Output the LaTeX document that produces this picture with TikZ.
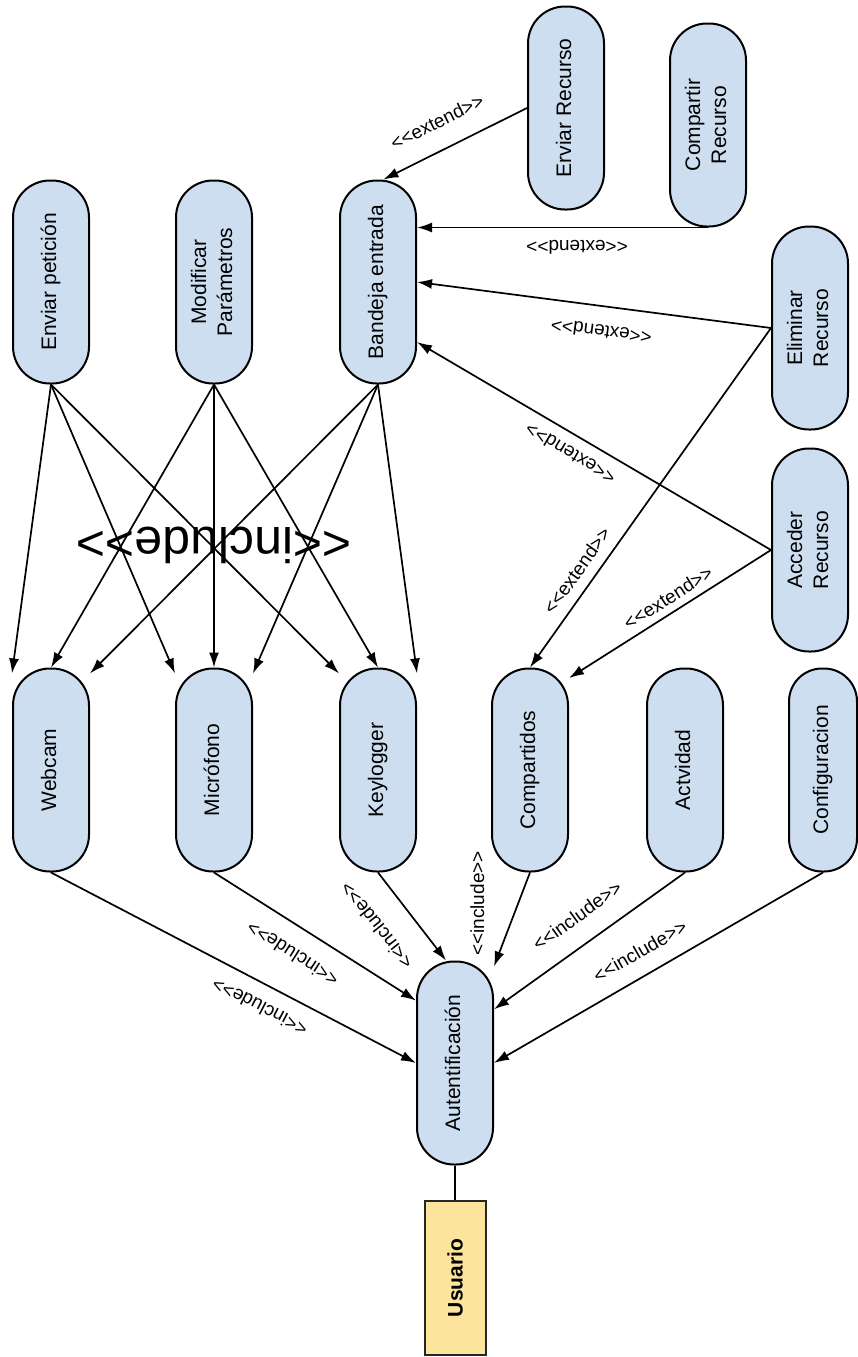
\documentclass[tikz,border=0pt]{standalone}
\usepackage{fontspec}
\setmainfont{Liberation Sans}[Ligatures=TeXOff]
\usepackage{tikz}
\usetikzlibrary{arrows.meta}

\definecolor{ucfill}{RGB}{205,222,241}
\definecolor{usrfill}{RGB}{253,228,156}
\newcommand{\vtext}[1]{\rotatebox{90}{\begin{tabular}{@{}c@{}}#1\end{tabular}}}

\begin{document}
\begin{tikzpicture}[x=1pt,y=-1pt,line width=1.7pt,>/.tip={Latex[length=15pt,width=10pt]},
	ucase/.style={draw, fill=ucfill, line width=2pt, rounded corners=37pt, minimum width=76pt, minimum height=203pt, inner sep=0pt, font=\fontsize{21}{26}\selectfont},
	actor/.style={draw=black!85, fill=usrfill, line width=2pt, minimum width=61pt, minimum height=154pt, inner sep=0pt, font=\fontsize{21}{26}\selectfont\bfseries},
	lbl/.style={font=\fontsize{19}{19}\selectfont, inner sep=1pt}]
\useasboundingbox (0,0) rectangle (858,1357);
\draw (51,282) node[ucase] (envpet) {\vtext{Enviar petición}};
\draw (214,282) node[ucase] (modpar) {\vtext{Modificar\\Parámetros}};
\draw (378,282) node[ucase] (bandeja) {\vtext{Bandeja entrada}};
\draw (566,108) node[ucase] (envrec) {\vtext{Erviar Recurso}};
\draw (708,125) node[ucase] (comprec) {\vtext{Compartir\\Recurso}};
\draw (810,328) node[ucase] (elimrec) {\vtext{Eliminar\\Recurso}};
\draw (810,550) node[ucase] (accrec) {\vtext{Acceder\\Recurso}};
\draw (51,770) node[ucase] (webcam) {\vtext{Webcam}};
\draw (214,770) node[ucase] (micro) {\vtext{Micrófono}};
\draw (378,770) node[ucase] (keylog) {\vtext{Keylogger}};
\draw (530,770) node[ucase] (compart) {\vtext{Compartidos}};
\draw (685,770) node[ucase] (activ) {\vtext{Actvidad}};
\draw (823,770) node[ucase, minimum width=68pt, rounded corners=33pt] (config) {\vtext{Configuracion}};
\draw (455,1063) node[ucase] (autent) {\vtext{Autentificación}};
\draw (455,1278) node[actor] (usuario) {\rotatebox{90}{Usuario}};
\draw (214,545) node[rotate=180, font=\fontsize{50}{50}\selectfont, inner sep=0pt] (incl) {<<include>>};
\foreach \dst in {webcam,micro,keylog} {
	\draw[->] (envpet.south) -- (\dst.112);
	\draw[->] (modpar.south) -- (\dst.north);
	\draw[->] (bandeja.south) -- (\dst.68);
}
\draw[->] (envrec.west) -- node[lbl, sloped, anchor=south, pos=.54, yshift=19pt] {<<extend>>} (bandeja.87);
\draw[->] (comprec.south) -- node[lbl, pos=.45, rotate=180, anchor=south, yshift=11pt] {<<extend>>} (comprec.south -| bandeja.east);
\draw[->] (elimrec.west) -- node[lbl, pos=.47, rotate=172.6, anchor=south, yshift=17pt] {<<extend>>} (bandeja.east);
\draw[->] (accrec.west) -- node[lbl, pos=.54, rotate=149.2, anchor=south, yshift=10pt] {<<extend>>} (bandeja.-57);
\draw[->] (elimrec.west) -- node[lbl, sloped, anchor=south, pos=.745, yshift=9pt] {<<extend>>} (compart.north);
\draw[->] (accrec.west) -- node[lbl, sloped, anchor=south, pos=.47, yshift=6pt] {<<extend>>} (compart.67);
\draw[->] (webcam.south) -- node[lbl, pos=.6, rotate=152.6, anchor=south, yshift=14pt] {<<include>>} (autent.west);
\draw[->] (micro.south) -- node[lbl, pos=.46, rotate=147.4, anchor=south, yshift=18pt] {<<include>>} (autent.122);
\draw[->] (keylog.south) -- node[lbl, pos=.365, rotate=128.4, anchor=south, yshift=25pt] {<<include>>} (autent.95);
\draw[->] (compart.south) -- node[lbl, pos=.33, rotate=90, anchor=south, yshift=32pt] {<<include>>} (autent.68);
\draw[->] (activ.south) -- node[lbl, sloped, anchor=south, pos=.48, yshift=19pt] {<<include>>} (autent.54);
\draw[->] (config.south) -- node[lbl, sloped, anchor=south, pos=.52, yshift=15pt] {<<include>>} (autent.east);
\draw (autent.south) -- (usuario.north);
\end{tikzpicture}
\end{document}
